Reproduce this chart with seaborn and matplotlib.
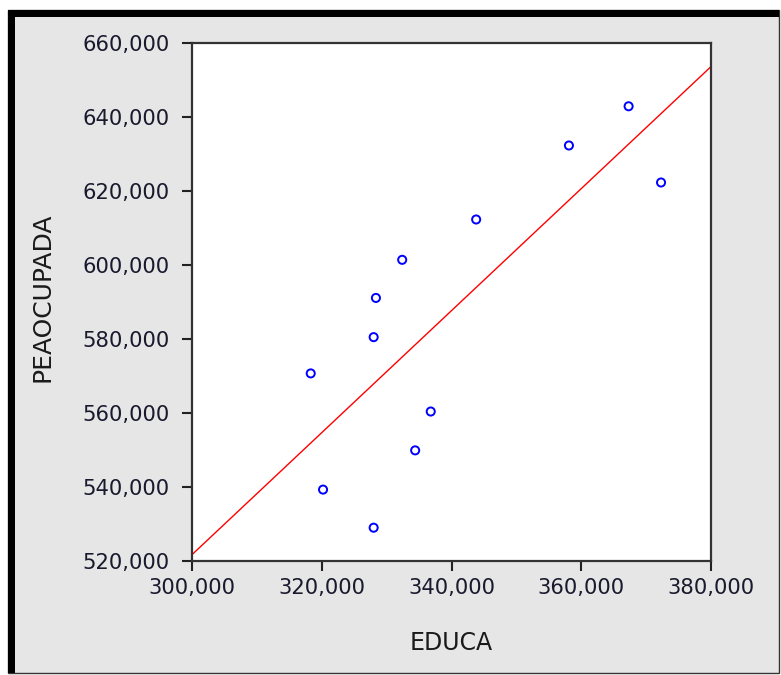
import matplotlib
matplotlib.use("Agg")
import matplotlib.pyplot as plt
from matplotlib.patches import Rectangle
from matplotlib.ticker import StrMethodFormatter
import seaborn as sns
import pandas as pd

# valores
educa = [318300, 320200, 328000, 328000, 328350, 332400,
         334400, 336800, 343800, 358100, 367300, 372300]
peaocupada = [570700, 539300, 529000, 580500, 591100, 601400,
              549900, 560400, 612300, 632300, 642900, 622300]
x_ticks = [300000, 320000, 340000, 360000, 380000]
y_ticks = [520000, 540000, 560000, 580000, 600000, 620000, 640000, 660000]

df = pd.DataFrame({"EDUCA": educa, "PEAOCUPADA": peaocupada})

sns.set_style("ticks")
plt.rcParams["font.family"] = ["DejaVu Sans"]

W, H = 781, 675
fig = plt.figure(figsize=(W / 100, H / 100), dpi=100, facecolor="white")

# moldura cinza com borda preta
fig.patches.append(Rectangle((8 / W, 2 / H), 771 / W, 663 / H, transform=fig.transFigure,
                             facecolor="#e6e6e6", edgecolor="#333333", linewidth=1, zorder=-2))
fig.patches.append(Rectangle((8 / W, 658 / H), 771 / W, 7 / H, transform=fig.transFigure,
                             facecolor="black", edgecolor="none", zorder=-1))
fig.patches.append(Rectangle((8 / W, 2 / H), 7 / W, 663 / H, transform=fig.transFigure,
                             facecolor="black", edgecolor="none", zorder=-1))

ax = fig.add_axes([192 / W, 1 - 561 / H, 519 / W, 518 / H])
ax.set_zorder(5)
ax.set_facecolor("white")
ax.set_xlim(300000, 380000)
ax.set_ylim(520000, 660000)

sns.regplot(data=df, x="EDUCA", y="PEAOCUPADA", ax=ax, ci=None, truncate=False,
            color="blue",
            scatter_kws={"facecolors": "none", "edgecolors": "blue", "s": 34,
                         "linewidths": 1.4, "alpha": 1, "zorder": 3},
            line_kws={"color": "red", "linewidth": 1.0, "zorder": 2})

ax.set_xlim(300000, 380000)
ax.set_ylim(520000, 660000)
ax.set_xticks(x_ticks)
ax.set_yticks(y_ticks)
ax.xaxis.set_major_formatter(StrMethodFormatter("{x:,.0f}"))
ax.yaxis.set_major_formatter(StrMethodFormatter("{x:,.0f}"))

for s in ax.spines.values():
    s.set_visible(True)
    s.set_color("#333333")
    s.set_linewidth(1.6)

ax.tick_params(axis="both", direction="out", length=7, width=1.5, color="#222222",
               labelsize=15.2, labelcolor="#1a1a2e")
ax.tick_params(axis="x", pad=5)
ax.tick_params(axis="y", pad=9)

ax.set_xlabel("EDUCA", fontsize=17, color="#1a1a1a")
ax.set_ylabel("PEAOCUPADA", fontsize=18, color="#1a1a1a")
ax.xaxis.set_label_coords(0.5, -0.135)
ax.yaxis.set_label_coords(-0.265, 0.51)

plt.savefig("out.png", dpi=100, facecolor=fig.get_facecolor())
